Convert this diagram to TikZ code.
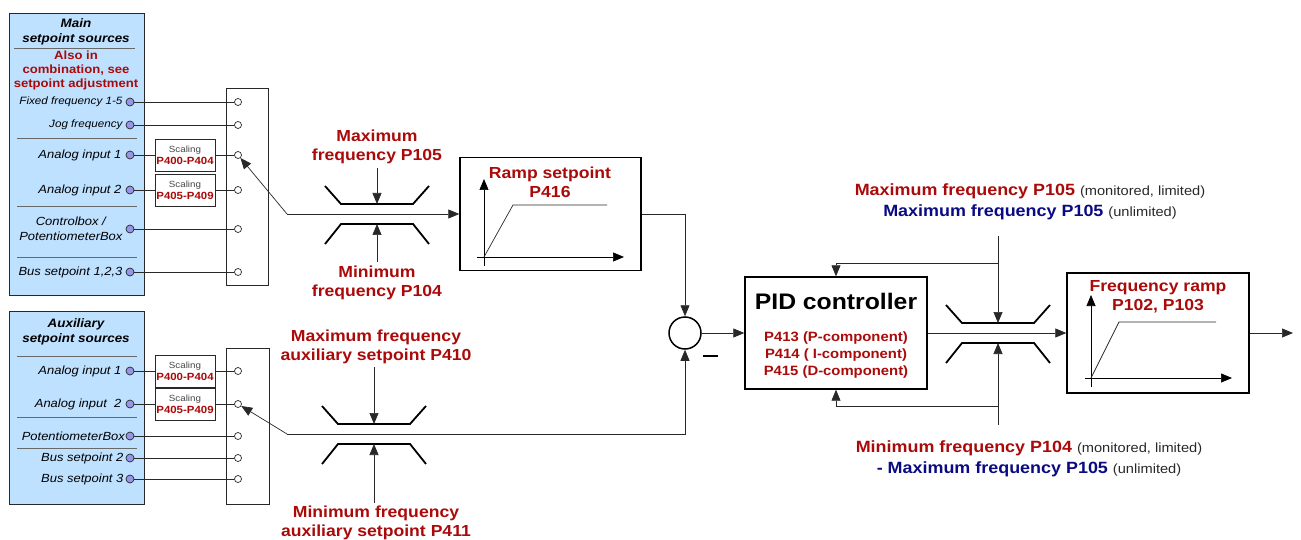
\documentclass[tikz,border=0pt]{standalone}
\usepackage{fontspec}
\setmainfont{Liberation Sans}[FakeStretch=1.1]
\usetikzlibrary{arrows.meta,positioning,calc}
\definecolor{dred}{RGB}{170,10,10}
\definecolor{dblue}{RGB}{10,10,130}
\definecolor{srcfill}{RGB}{190,225,255}
\definecolor{dotfill}{RGB}{150,150,230}
\definecolor{ink}{RGB}{40,40,40}
\tikzset{
  srcbox/.style={draw=ink,fill=srcfill,line width=0.8pt,anchor=north west,inner sep=0pt},
  swbox/.style={draw=ink,fill=white,line width=0.8pt,anchor=north west,inner sep=0pt},
  blk/.style={draw=black,line width=1.4pt,inner sep=0pt},
  head/.style={font=\fontsize{12.2}{15}\selectfont\bfseries\itshape,align=center,inner sep=0pt},
  item/.style={font=\fontsize{11.8}{15.5}\selectfont\itshape,align=center,inner sep=0pt},
  smallitem/.style={item,font=\fontsize{10.6}{15.5}\selectfont\itshape},
  note/.style={font=\fontsize{11.9}{14}\selectfont\bfseries,text=dred,align=center,inner sep=0pt},
  hsep/.style={draw=ink!70,line width=0.8pt},
  srcdot/.style={circle,draw=ink,fill=dotfill,minimum size=8pt,inner sep=0pt,line width=0.7pt},
  tdot/.style={circle,draw=ink,fill=white,minimum size=7pt,inner sep=0pt,line width=0.7pt},
  scal/.style={draw=ink,fill=white,minimum width=60pt,minimum height=32pt,inner sep=0pt,align=center,
    font=\fontsize{8.9}{12}\selectfont,text=ink!85},
  lbl/.style={font=\fontsize{16}{19}\selectfont\bfseries,text=dred,align=center,inner sep=0pt},
  rlbl/.style={font=\fontsize{16.3}{21}\selectfont\bfseries,align=center,inner sep=0pt},
  wire/.style={draw=ink,line width=0.7pt},
  arr/.style={wire,-{Triangle[length=11pt,width=9pt]}},
  limline/.style={line width=1.8pt,black},
  limiter/.pic={
    \draw[limline] (-52,-28) -- (-36,-10) -- (36,-10) -- (52,-28);
    \draw[limline] (-52,30) -- (-36,10) -- (36,10) -- (52,30);
    \coordinate (-top) at (0,-10);
    \coordinate (-bot) at (0,10);
  },
}
\newcommand{\scaltext}[1]{Scaling\\{\fontsize{10.4}{12}\selectfont\bfseries\color{dred}#1}}
\newcommand{\paren}[1]{{\mdseries\fontsize{13.3}{21}\selectfont\color{ink}#1}}

\begin{document}
\begin{tikzpicture}[x=1pt,y=-1pt]
  \useasboundingbox (0,0) rectangle (1301,540);

  % main setpoint sources
  \node[srcbox,minimum width=135pt,minimum height=282pt] (mainsrc) at (9,13) {};
  \node[head] (mainhd) at (76,32) {Main\\setpoint sources};
  \draw[hsep] (14,48) -- (135,48);
  \node[note] (mainnote) at (76,70) {Also in\\combination, see\\setpoint adjustment};
  \node[srcdot] (m1) at (130,102) {};
  \node[srcdot] (m2) at (130,125) {};
  \node[srcdot] (m3) at (130,155) {};
  \node[srcdot] (m4) at (130,190) {};
  \node[srcdot] (m5) at (130,229) {};
  \node[srcdot] (m6) at (130,272) {};
  \node[smallitem,left=3pt of m1] {Fixed frequency 1-5};
  \node[smallitem,left=3pt of m2] {Jog frequency};
  \node[item,left=4pt of m3] {Analog input 1};
  \node[item,left=4pt of m4] {Analog input 2};
  \node[item,left=3pt of m5] {Controlbox /\\PotentiometerBox};
  \node[item,left=3pt of m6] {Bus setpoint 1,2,3};
  \draw[hsep] (17,138) -- (137,138);
  \draw[hsep] (17,206) -- (137,206);
  \draw[hsep] (17,257) -- (137,257);

  \node[swbox,minimum width=42pt,minimum height=197pt] (mainsw) at (226,88) {};
  \node[tdot] (s1) at (238,102) {};
  \node[tdot] (s2) at (238,125) {};
  \node[tdot] (s3) at (238,155) {};
  \node[tdot] (s4) at (238,190) {};
  \node[tdot] (s5) at (238,229) {};
  \node[tdot] (s6) at (238,272) {};
  \node[scal] (sc1) at (185,155) {\scaltext{P400-P404}};
  \node[scal] (sc2) at (185,190) {\scaltext{P405-P409}};

  \draw[wire] (m1) -- (s1);
  \draw[wire] (m2) -- (s2);
  \draw[wire] (m3) -- (sc1) (sc1) -- (s3);
  \draw[wire] (m4) -- (sc2) (sc2) -- (s4);
  \draw[wire] (m5) -- (s5);
  \draw[wire] (m6) -- (s6);

  % auxiliary setpoint sources
  \node[srcbox,minimum width=135pt,minimum height=193pt] (auxsrc) at (9,311) {};
  \node[head] (auxhd) at (76,332) {Auxiliary\\setpoint sources};
  \draw[hsep] (17,356) -- (137,356);
  \node[srcdot] (a1) at (130,371) {};
  \node[srcdot] (a2) at (130,404) {};
  \node[srcdot] (a3) at (130,436) {};
  \node[srcdot] (a4) at (130,458) {};
  \node[srcdot] (a5) at (130,479) {};
  \node[item,left=4pt of a1] {Analog input 1};
  \node[item,left=4pt of a2] {Analog input\ \ 2};
  \node[item,left=0.5pt of a3] {PotentiometerBox};
  \node[item,left=2pt of a4] {Bus setpoint 2};
  \node[item,left=2pt of a5] {Bus setpoint 3};
  \draw[hsep] (17,417) -- (137,417);
  \draw[hsep] (17,448) -- (137,448);

  \node[swbox,minimum width=43pt,minimum height=156pt] (auxsw) at (226,348) {};
  \node[tdot] (t1) at (238,371) {};
  \node[tdot] (t2) at (238,404) {};
  \node[tdot] (t3) at (238,436) {};
  \node[tdot] (t4) at (238,458) {};
  \node[tdot] (t5) at (238,479) {};
  \node[scal] (sa1) at (185,371) {\scaltext{P400-P404}};
  \node[scal] (sa2) at (185,404) {\scaltext{P405-P409}};

  \draw[wire] (a1) -- (sa1) (sa1) -- (t1);
  \draw[wire] (a2) -- (sa2) (sa2) -- (t2);
  \draw[wire] (a3) -- (t3);
  \draw[wire] (a4) -- (t4);
  \draw[wire] (a5) -- (t5);

  % main path limiter and ramp
  \coordinate (mainj) at (287,214);
  \coordinate (auxj) at (287,434);
  \draw[arr] (mainj) -- (s3);
  \draw[arr] (auxj) -- (t2);

  \pic (lim1) at (377,214) {limiter};
  \node[lbl] (maxf) at (377,147) {Maximum\\frequency P105};
  \node[lbl] (minf) at (377,283) {Minimum\\frequency P104};
  \draw[arr,shorten <=4pt] (maxf.south) -- (lim1-top);
  \draw[arr,shorten <=4pt] (minf.north) -- (lim1-bot);

  \node[blk,minimum width=181pt,minimum height=113pt] (ramp) at (550.5,214) {};
  \node[lbl] (ramptl) at (550,182.5) {Ramp setpoint\\P416};
  \draw[arr,black] (484,266) -- (484,179);
  \draw[arr,black] (477,257) -- (624,257);
  \draw[wire] (484,257) -- (513,205) -- (607,205);
  \draw[arr] (mainj) -- (ramp);

  % auxiliary path limiter
  \pic (lim2) at (374,434) {limiter};
  \node[lbl] (maxa) at (376,347) {Maximum frequency\\auxiliary setpoint P410};
  \node[lbl] (mina) at (376,523) {Minimum frequency\\auxiliary setpoint P411};
  \draw[arr,shorten <=3pt] (lim2-top |- maxa.south) -- (lim2-top);
  \draw[arr,shorten <=3pt] (lim2-bot |- mina.north) -- (lim2-bot);

  % summing point
  \node[circle,draw,line width=1.5pt,minimum size=32pt,inner sep=0pt] (sum) at (685,333) {};
  \node[inner sep=0pt] (minus) at (710,356) {\rule{15pt}{2.6pt}};
  \draw[arr] (ramp.east) -| (sum.north);
  \draw[arr] (auxj) -| (sum.south);

  % PID controller
  \node[blk,minimum width=182pt,minimum height=112pt] (pid) at (836,333) {};
  \node[font=\fontsize{22.5}{24}\selectfont\bfseries,inner sep=0pt] (pidtl) at (836,301) {PID controller};
  \node[lbl,font=\fontsize{13.5}{17}\selectfont\bfseries] (pidpar) at (836,355)
    {P413 (P-component)\\P414 ( I-component)\\P415 (D-component)};
  \draw[arr] (sum) -- (pid);

  % output limiter and frequency ramp
  \pic (lim3) at (998,333) {limiter};
  \node[blk,minimum width=182pt,minimum height=120pt] (framp) at (1158,333) {};
  \node[lbl] (framptl) at (1158,297) {Frequency ramp\\P102, P103};
  \draw[arr,black] (1091,387) -- (1091,295);
  \draw[arr,black] (1085,378) -- (1232,378);
  \draw[wire] (1091,378) -- (1119,322) -- (1216,322);
  \draw[arr] (pid) -- (framp);
  \coordinate (out) at (1293,333);
  \draw[arr] (framp) -- (out);

  \node[rlbl] (fmaxlbl) at (1030,202)
    {\textcolor{dred}{Maximum frequency P105} \paren{(monitored, limited)}\\
     \textcolor{dblue}{Maximum frequency P105} \paren{(unlimited)}};
  \node[rlbl] (fminlbl) at (1029,459)
    {\textcolor{dred}{Minimum frequency P104} \paren{(monitored, limited)}\\
     \textcolor{dblue}{- Maximum frequency P105} \paren{(unlimited)}};
  \coordinate (vtop) at (998,236);
  \coordinate (topj) at (998,263);
  \coordinate (vbot) at (998,425);
  \coordinate (botj) at (998,406);
  \draw[arr] (vtop) -- (lim3-top);
  \draw[arr] (topj) -| (pid.north);
  \draw[arr] (vbot) -- (lim3-bot);
  \draw[arr] (botj) -| (pid.south);
\end{tikzpicture}
\end{document}
